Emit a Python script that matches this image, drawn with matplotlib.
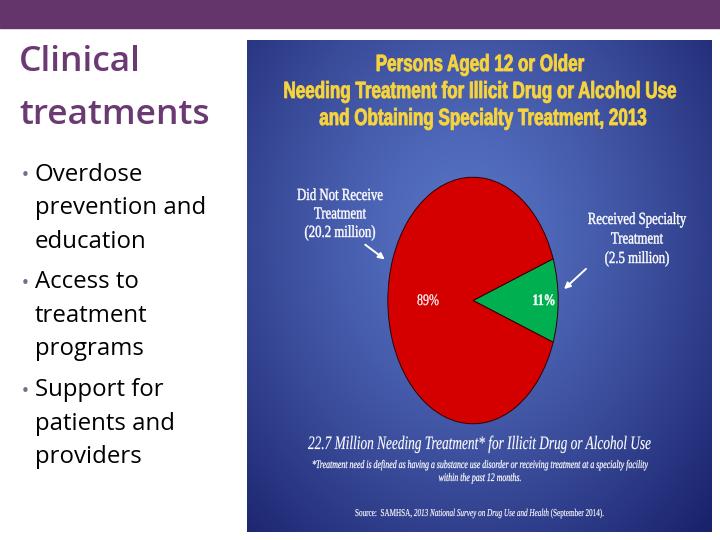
import numpy as np
import matplotlib
matplotlib.use("Agg")
import matplotlib.pyplot as plt
from matplotlib.patches import Rectangle, PathPatch
from matplotlib.textpath import TextPath, text_to_path
from matplotlib.font_manager import FontProperties
from matplotlib.transforms import Affine2D

# ---- data ----
slice_values = [11, 89]
slice_pcts = ["11%", "89%"]
slice_colors = ["#00b050", "#d40000"]
label_received = ["Received Specialty", "Treatment", "(2.5 million)"]
label_not_received = ["Did Not Receive", "Treatment", "(20.2 million)"]

slide_title = ["Clinical", "treatments"]
bullets = [["Overdose", "prevention and", "education"],
           ["Access to", "treatment", "programs"],
           ["Support for", "patients and", "providers"]]

chart_title = ["Persons Aged 12 or Older",
               "Needing Treatment for Illicit Drug or Alcohol Use",
               "and Obtaining Specialty Treatment, 2013"]
total_line = "22.7 Million Needing Treatment* for Illicit Drug or Alcohol Use"
footnote = ["*Treatment need is defined as having a substance use disorder or receiving treatment at a specialty facility",
            "within the past 12 months."]
source_parts = [("Source:  SAMHSA, ", "normal"),
                ("2013 National Survey on Drug Use and Health", "italic"),
                (" (September 2014).", "normal")]

W, H = 720, 540
SERIF = "Liberation Serif"
SANS = "Liberation Sans"


def squeezed(ax, x, base, s, size, color, sx=None, width=None, ha="center",
             stroke=0.0, **fp):
    """Draw text as a path, squeezed horizontally like the stretched source image."""
    prop = FontProperties(size=size, **fp)
    nat_w = text_to_path.get_text_width_height_descent(s, prop, ismath=False)[0]
    if sx is None:
        sx = width / nat_w
    w = nat_w * sx
    x0 = x - w / 2 if ha == "center" else x
    tp = TextPath((0, 0), s, prop=prop)
    tr = Affine2D().scale(sx, -1).translate(x0, base)
    ax.add_patch(PathPatch(tr.transform_path(tp), facecolor=color,
                           edgecolor=color if stroke else "none",
                           linewidth=stroke, zorder=6))
    return sx, w


fig = plt.figure(figsize=(7.2, 5.4), dpi=100)
ax = fig.add_axes([0, 0, 1, 1])
ax.set_xlim(0, W)
ax.set_ylim(H, 0)
ax.axis("off")

# header bar
ax.add_patch(Rectangle((0, 0), W, 28, color="#64356a", zorder=1))

# slide text (left column)
purple = "#6b3a73"
for i, line in enumerate(slide_title):
    ax.text(19, 62 + i * 53, line, color=purple, fontsize=25.5, family="Open Sans",
            fontweight="semibold", va="center", ha="left")

group_y = [175, 282, 390]
for gy, group in zip(group_y, bullets):
    ax.text(21, gy + 1, "\u2022", color="#7a6a85", fontsize=11, va="center", ha="left")
    for j, line in enumerate(group):
        ax.text(35, gy + j * 33.5, line, color="black", fontsize=17.3,
                family="Open Sans", va="center", ha="left")

# chart panel with radial gradient background
px0, px1, py0, py1 = 247, 712, 40, 532
gx, gy = np.meshgrid(np.linspace(0, 1, 300), np.linspace(0, 1, 300))
d = np.sqrt(((gx - 0.47) / 0.72) ** 2 + ((gy - 0.40) / 0.85) ** 2)
d = np.clip(d, 0, 1) ** 1.3
light = np.array([88, 116, 198]) / 255
dark = np.array([26, 34, 108]) / 255
img = light[None, None, :] * (1 - d[..., None]) + dark[None, None, :] * d[..., None]
ax.imshow(img, extent=(px0, px1, py1, py0), aspect="auto", zorder=2)

# pie (elliptical, as in the source image)
cx0, cx1, cy0, cy1 = 387, 559, 176, 425
pax = fig.add_axes([cx0 / W, 1 - cy1 / H, (cx1 - cx0) / W, (cy1 - cy0) / H])
start = -slice_values[0] * 3.6 / 2
pax.pie(slice_values, colors=slice_colors, startangle=start, counterclock=True,
        wedgeprops=dict(edgecolor="#300000", linewidth=0.7))
pax.set_aspect("auto")
pax.set_xlim(-1.01, 1.01)
pax.set_ylim(-1.01, 1.01)
pax.axis("off")

# overlay for chart texts
tax = fig.add_axes([0, 0, 1, 1])
tax.set_xlim(0, W)
tax.set_ylim(H, 0)
tax.axis("off")
tax.patch.set_alpha(0)

yellow = "#f7d43c"
tsx, _ = squeezed(tax, 480, 98, chart_title[1], 23.5, yellow, width=393,
                  stroke=0.6, family=SANS, weight="bold")
squeezed(tax, 480, 71, chart_title[0], 23.5, yellow, sx=tsx, stroke=0.6,
         family=SANS, weight="bold")
squeezed(tax, 483, 125, chart_title[2], 23.5, yellow, sx=tsx, stroke=0.6,
         family=SANS, weight="bold")

# slice labels
lsx, _ = squeezed(tax, 340, 200, label_not_received[0], 17, "white", width=86,
                  stroke=0.3, family=SERIF)
for j, line in enumerate(label_not_received[1:], start=1):
    squeezed(tax, 340, 200 + j * 18.5, line, 17, "white", sx=lsx, stroke=0.3, family=SERIF)
for j, line in enumerate(label_received):
    squeezed(tax, 637, 224 + j * 19.5, line, 17, "white", sx=lsx, stroke=0.3, family=SERIF)

# percentages
squeezed(tax, 544, 305, slice_pcts[0], 16, "white", width=23, stroke=0.3,
         family=SERIF, weight="bold")
squeezed(tax, 428, 305, slice_pcts[1], 16, "white", width=22, stroke=0.2, family=SERIF)

arrow = dict(arrowstyle="-|>", color="white", lw=1.4, mutation_scale=9)
tax.annotate("", xy=(562, 291), xytext=(588, 267), arrowprops=arrow)
tax.annotate("", xy=(387, 261), xytext=(363, 243), arrowprops=arrow)

# bottom texts
squeezed(tax, 479.5, 449, total_line, 19, "white", width=343, stroke=0.1,
         family=SERIF, style="italic")
fsx, _ = squeezed(tax, 480, 468, footnote[0], 11.5, "white", width=336,
                  stroke=0.15, family=SERIF, style="italic")
squeezed(tax, 480, 481, footnote[1], 11.5, "white", sx=fsx, stroke=0.15,
         family=SERIF, style="italic")

# source line with an italic title in the middle
src_size = 10.5
nat = [text_to_path.get_text_width_height_descent(
           s, FontProperties(size=src_size, family=SERIF, style=st), ismath=False)[0]
       for s, st in source_parts]
ssx = 249 / sum(nat)
x = 479.5 - 249 / 2
for (s, st), nw in zip(source_parts, nat):
    squeezed(tax, x, 516, s, src_size, "white", sx=ssx, ha="left", stroke=0.1,
             family=SERIF, style=st)
    x += nw * ssx

fig.savefig("out.png", dpi=100)
